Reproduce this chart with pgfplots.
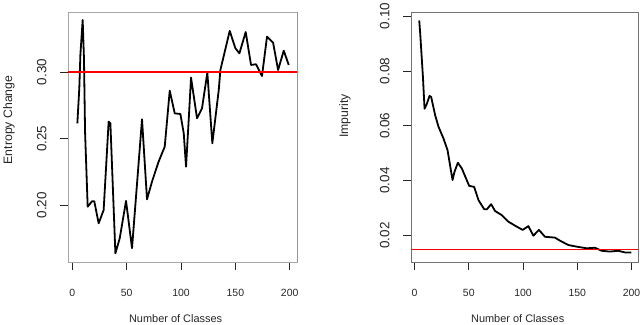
\documentclass[border=0pt]{standalone}
\usepackage{fontspec}
\setmainfont{Liberation Sans}
\usepackage{pgfplots}
\pgfplotsset{compat=1.18}

\pgfplotsset{
  rplot/.style={
    scale only axis,
    height=250bp,
    axis lines=box,
    axis line style={draw=gray!70, line width=0.9bp},
    tick align=outside,
    xtick pos=bottom, ytick pos=left,
    major tick length=8bp,
    tick style={black!85, line width=0.8bp},
    xtick={0,50,100,150,200},
    /pgf/number format/assume math mode=true,
    xticklabel style={font=\fontsize{10.5}{12}\selectfont, text=black!85, anchor=north, yshift=-16bp},
    yticklabel shift=10bp,
    yticklabel style={font=\fontsize{13.5}{15}\selectfont, text=black!85, rotate=90, anchor=south},
    y tick label style={/pgf/number format/fixed, /pgf/number format/fixed zerofill, /pgf/number format/precision=2},
    xlabel={Number of Classes},
    xlabel style={font=\fontsize{11}{13}\selectfont, text=black!85, at={(axis description cs:0.47,-0.24)}, anchor=base},
    ylabel style={font=\fontsize{12.3}{14}\selectfont, text=black!85, anchor=center},
  }
}

\begin{document}
\begin{tikzpicture}
\path[use as bounding box] (0,0) rectangle (640bp,325bp);

% left panel: entropy change
\begin{axis}[rplot,
  at={(68bp,63bp)}, anchor=south west,
  width=229bp,
  xmin=-4, xmax=206.7,
  ymin=0.1575, ymax=0.345,
  ytick={0.20,0.25,0.30},
  ylabel={Entropy Change},
  ylabel style={at={(axis description cs:-0.258,0.568)}},
]
\draw[black!85, line width=0.9bp] (rel axis cs:0,0) -- (rel axis cs:1,0) -- (rel axis cs:1,1);
\addplot[draw=black, line width=1.8bp, line join=round] coordinates {
(4.6,0.2615) (6.4,0.2878) (7.4,0.313) (9.5,0.339) (10.7,0.310) (11.7,0.255)
(14.1,0.199) (18.1,0.203) (20.2,0.203) (24.2,0.1865) (28.8,0.1965) (33.4,0.2628)
(35,0.2615) (39.6,0.164) (43.6,0.1753) (49.4,0.2033) (54.9,0.1678) (64.1,0.2645)
(68.7,0.2045) (73.3,0.2178) (79.4,0.2328) (85,0.244) (89.6,0.286) (94.2,0.269)
(99.4,0.2685) (102.5,0.254) (104.6,0.229) (107.4,0.269) (109.2,0.2958) (114.7,0.2653)
(119.3,0.2728) (124.2,0.2995) (128.8,0.2465) (134.7,0.2865) (136.2,0.3015) (144.8,0.3308)
(150,0.3178) (153.7,0.314) (159.5,0.330) (164.4,0.3053) (169,0.3058) (174.5,0.297)
(179.1,0.3265) (184.7,0.322) (189.3,0.3015) (194.5,0.316) (199.1,0.3053)
};
\addplot[draw=red, line width=1.3bp] coordinates {(-4,0.30) (206.7,0.30)};
\end{axis}

% right panel: impurity
\begin{axis}[rplot,
  at={(411bp,63bp)}, anchor=south west,
  width=227bp,
  xmin=-3.3, xmax=206,
  ymin=0.0103, ymax=0.1015,
  axis line style={draw=black!55, line width=0.9bp},
  ytick={0.02,0.04,0.06,0.08,0.10},
  ylabel={Impurity},
  ylabel style={at={(axis description cs:-0.291,0.584)}},
]
\addplot[draw=black, line width=1.8bp, line join=round] coordinates {
(4.3,0.0984) (5.2,0.0936) (7.7,0.0778) (9.2,0.0662) (11.3,0.068) (13.8,0.0709)
(15.3,0.0705) (19,0.0638) (22.1,0.0596) (26.7,0.0553) (30.4,0.0511) (35,0.0402)
(36.8,0.0432) (39.9,0.0465) (43.6,0.0444) (50.3,0.0381) (54.9,0.0377) (58.9,0.0329)
(64.1,0.0296) (66.6,0.0295) (70.6,0.0314) (74.2,0.0289) (80.4,0.0274) (86.5,0.025)
(94.2,0.0232) (99.7,0.022) (104.9,0.0234) (109.5,0.0199) (114.7,0.022) (120.2,0.0195)
(129.4,0.0192) (134,0.0181) (141.7,0.0165) (149.4,0.0159) (158.6,0.0153) (166.3,0.0155)
(172.4,0.0144) (180,0.0141) (187.7,0.0144) (193.9,0.0138) (200,0.0138)
};
\addplot[draw=red, line width=1.4bp] coordinates {(-3.3,0.0149) (206,0.0149)};
\end{axis}
\end{tikzpicture}
\end{document}
